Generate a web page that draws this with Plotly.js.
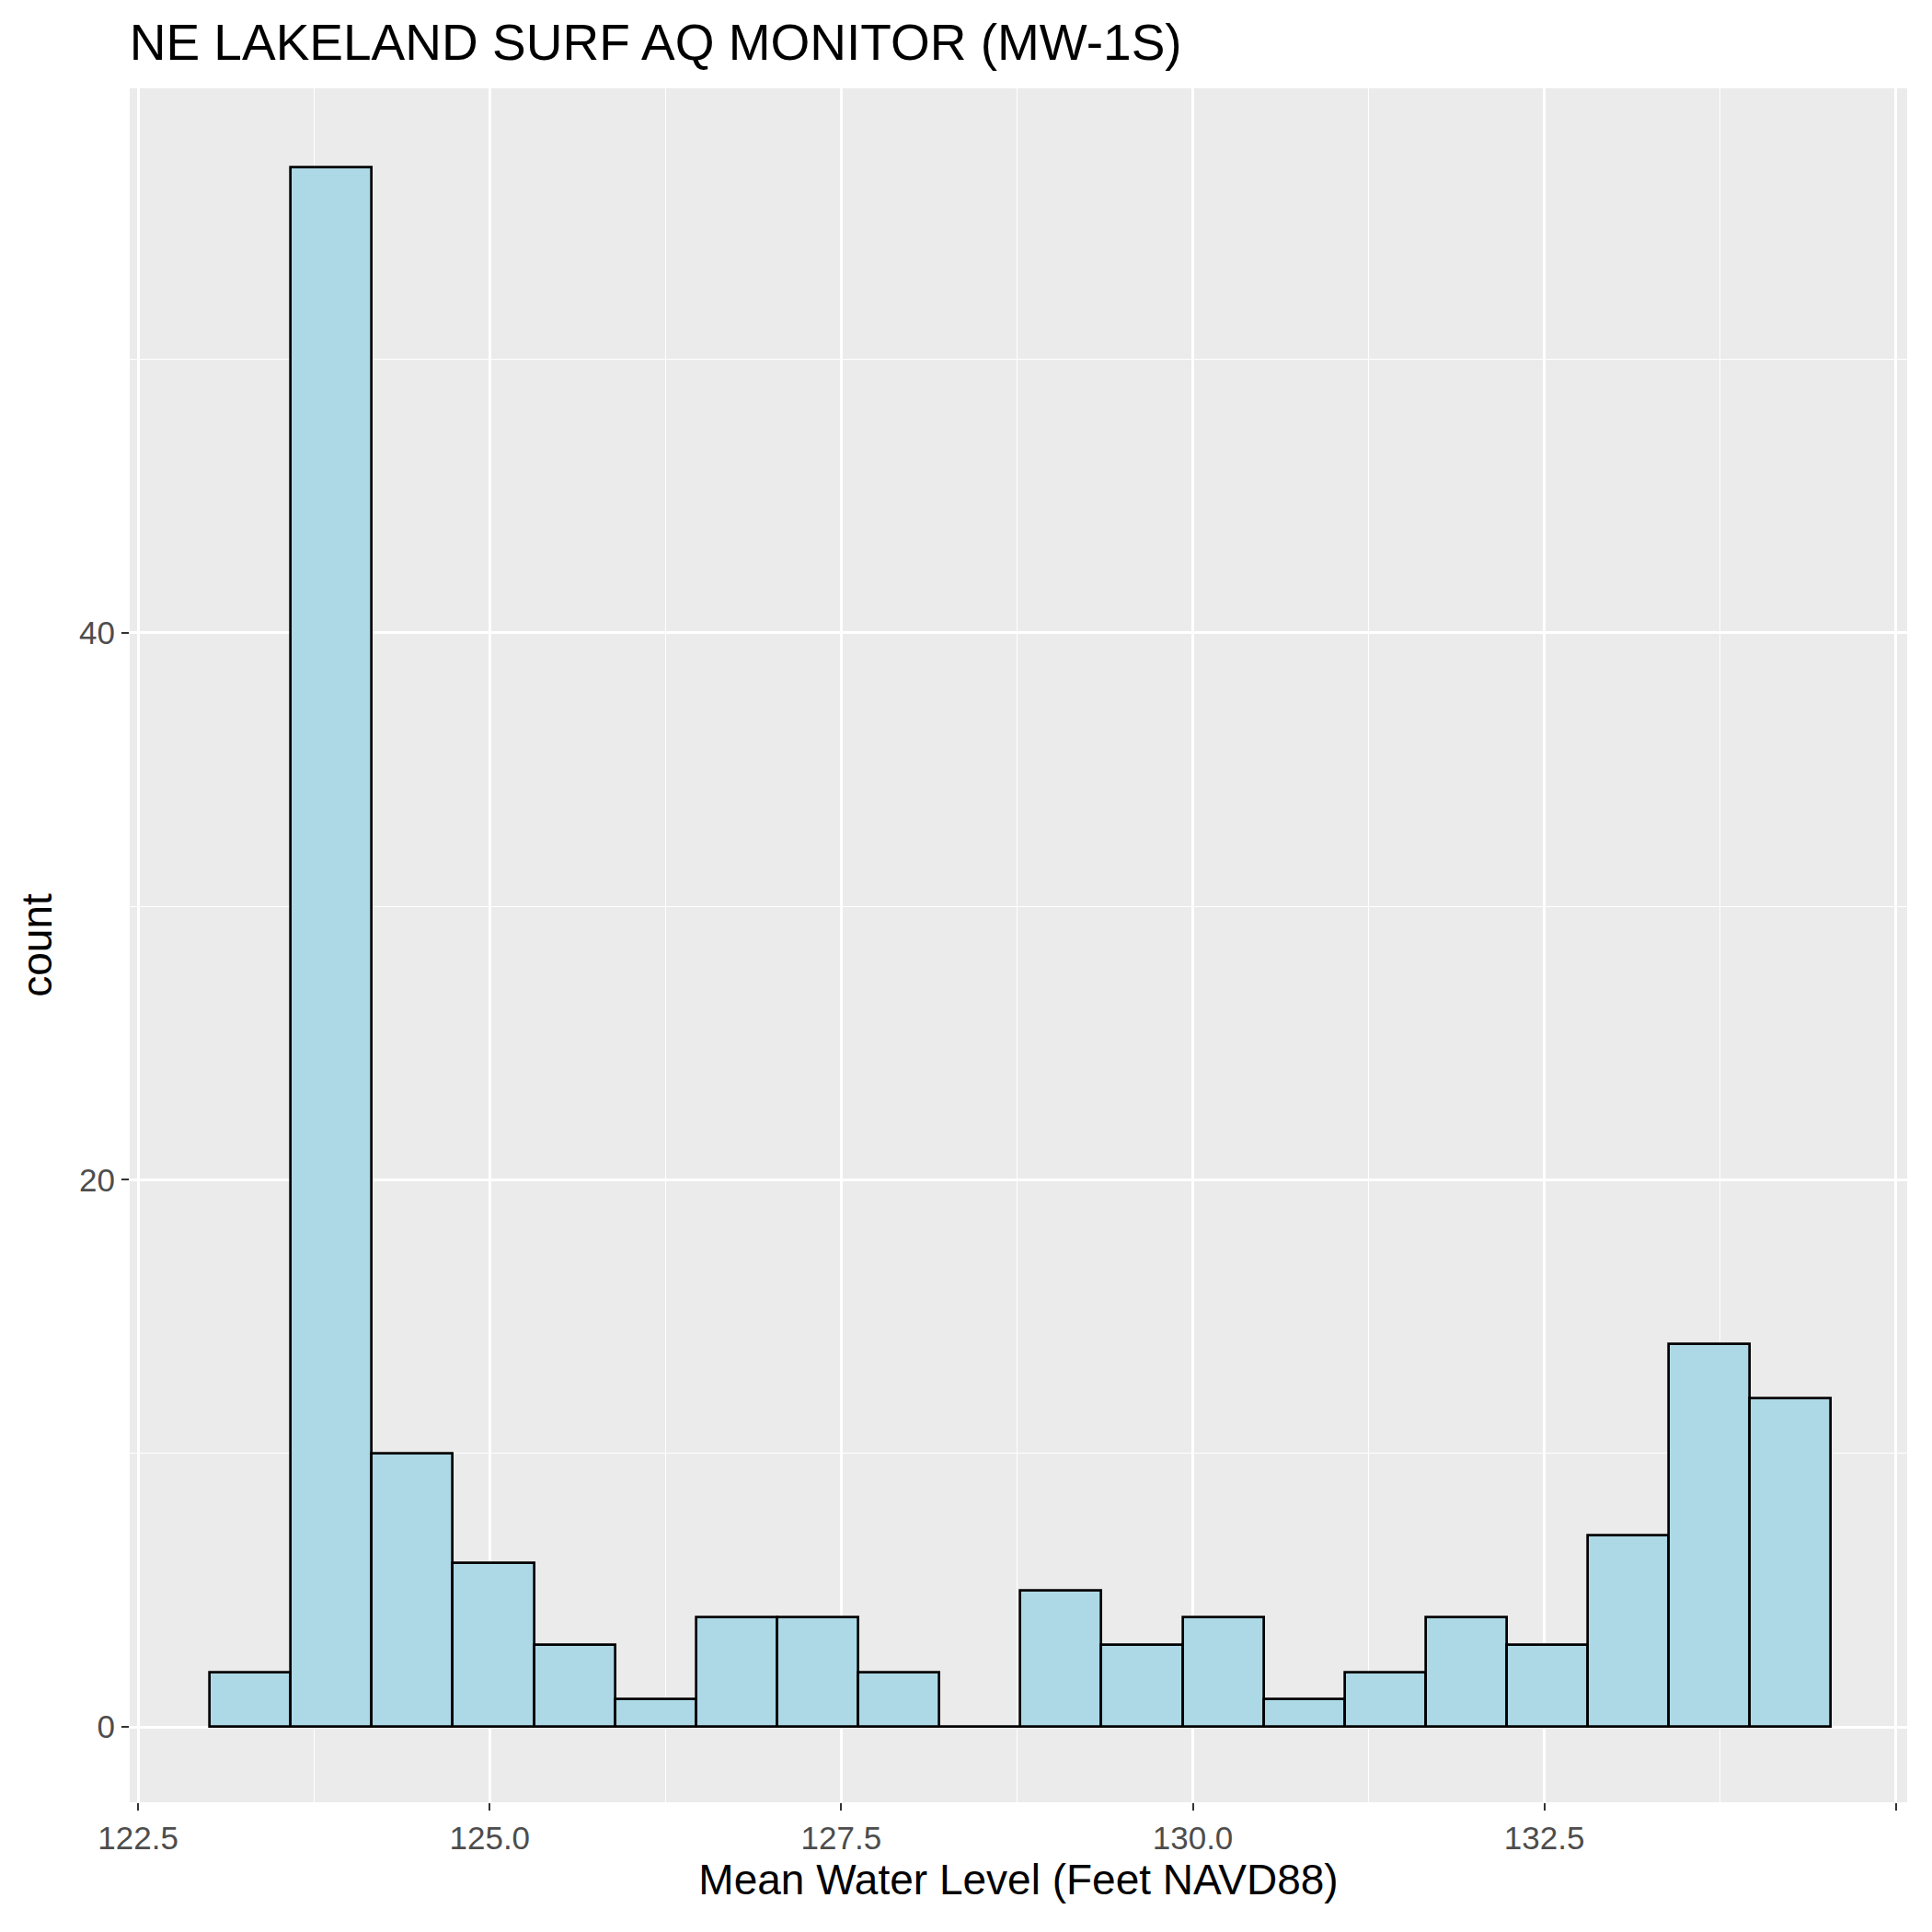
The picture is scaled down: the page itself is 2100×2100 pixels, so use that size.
<!DOCTYPE html>
<html>
<head>
<script src="https://cdn.plot.ly/plotly-3.0.1.min.js"></script>
<style>body{margin:0;background:#fff}</style>
</head>
<body>
<div id="chart" style="width:2100px;height:2100px"></div>
<script>
// histogram bins
var bin_start = 123.01;
var bin_width = 0.5765;
var counts = [2, 57, 10, 6, 3, 1, 4, 4, 2, 0, 5, 3, 4, 1, 2, 4, 3, 7, 14, 12];
var x_ticks = [122.5, 125.0, 127.5, 130.0, 132.5, 135.0];
var x_tick_labels = ['122.5', '125.0', '127.5', '130.0', '132.5', '135.0'];
var y_ticks = [0, 20, 40];

var centers = [];
for (var i = 0; i < counts.length; i++) {
  centers.push(bin_start + bin_width * (i + 0.5));
}

var trace = {
  x: centers,
  y: counts,
  width: bin_width,
  type: 'bar',
  marker: {color: '#ADD8E6', line: {color: '#000000', width: 2.7}},
  hoverinfo: 'x+y'
};

var layout = {
  width: 2100, height: 2100,
  paper_bgcolor: '#ffffff',
  plot_bgcolor: '#EBEBEB',
  showlegend: false,
  font: {family: 'Liberation Sans, Arial, sans-serif', color: '#000000'},
  margin: {l: 141, r: 27, t: 96, b: 141},
  title: {text: 'NE LAKELAND SURF AQ MONITOR (MW-1S)', x: 0.067, xanchor: 'left', y: 0.978, yanchor: 'middle',
          font: {size: 55, color: '#000000'}},
  xaxis: {
    range: [122.44, 135.08],
    tickvals: x_ticks, ticktext: x_tick_labels,
    ticks: 'outside', ticklen: 8, tickcolor: '#333333', tickwidth: 2,
    tickfont: {size: 35, color: '#4D4D4D'},
    showgrid: true, gridcolor: '#ffffff', gridwidth: 2.7,
    minor: {tickvals: [123.75, 126.25, 128.75, 131.25, 133.75], showgrid: true, gridcolor: '#ffffff', gridwidth: 1.3},
    zeroline: false, showline: false,
    title: {text: 'Mean Water Level (Feet NAVD88)', font: {size: 46}, standoff: 8}
  },
  yaxis: {
    range: [-2.75, 59.9],
    tickvals: y_ticks,
    ticks: 'outside', ticklen: 8, tickcolor: '#333333', tickwidth: 2,
    tickfont: {size: 35, color: '#4D4D4D'},
    showgrid: true, gridcolor: '#ffffff', gridwidth: 2.7,
    minor: {tickvals: [10, 30, 50], showgrid: true, gridcolor: '#ffffff', gridwidth: 1.3},
    zeroline: false, showline: false,
    title: {text: 'count', font: {size: 46}, standoff: 14}
  },
  bargap: 0
};

Plotly.newPlot('chart', [trace], layout, {displaylogo: false, displayModeBar: false});
</script>
</body>
</html>
